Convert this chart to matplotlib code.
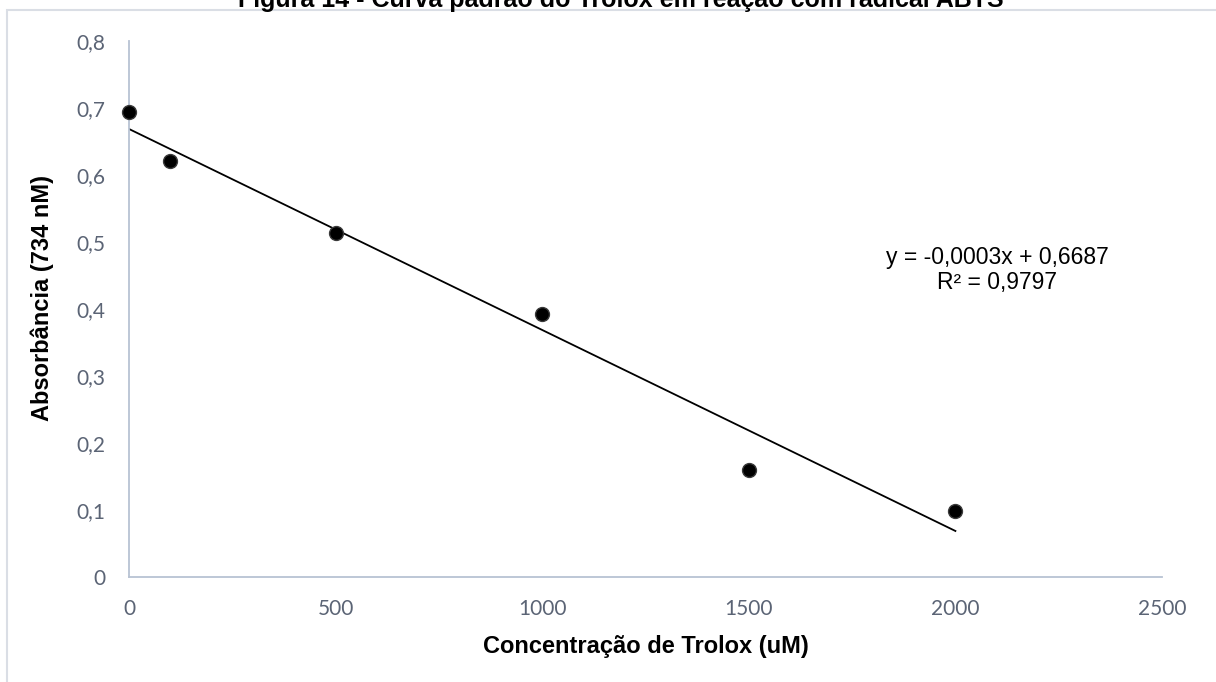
import matplotlib
matplotlib.use("Agg")
import matplotlib.pyplot as plt
from matplotlib.patches import Rectangle
import numpy as np

# Trolox standard curve (ABTS assay)
concentracao = [0, 100, 500, 1000, 1500, 2000]
absorbancia = [0.694, 0.621, 0.513, 0.393, 0.160, 0.099]
coef_a = -0.0003
coef_b = 0.6687
r2 = 0.9797

x_ticks = [0, 500, 1000, 1500, 2000, 2500]
y_ticks = [0, 0.1, 0.2, 0.3, 0.4, 0.5, 0.6, 0.7, 0.8]

titulo = "Figura 14 - Curva padrão do Trolox em reação com radical ABTS"
x_label = "Concentração de Trolox (uM)"
y_label = "Absorbância (734 nM)"

W, H = 1216, 682
fig = plt.figure(figsize=(W / 100, H / 100), dpi=100)
ax = fig.add_axes([129 / W, 1 - 577 / H, (1162 - 129) / W, (577 - 41) / H])

tick_color = "#5b6475"
spine_color = "#b8c3d3"

# trendline from the stated equation
x_fit = np.array([concentracao[0], concentracao[-1]])
ax.plot(x_fit, coef_a * x_fit + coef_b, color="black", lw=1.3, zorder=2)
ax.plot(concentracao, absorbancia, "o", color="black", ms=10,
        mec="#3a3a3a", mew=1.0, zorder=3, clip_on=False)

ax.set_xlim(0, 2500)
ax.set_ylim(0, 0.8)
ax.set_xticks(x_ticks)
ax.set_yticks(y_ticks)
ax.set_xticklabels([str(v) for v in x_ticks])
ax.set_yticklabels([f"{v:g}".replace(".", ",") for v in y_ticks])
ax.tick_params(length=0, labelcolor=tick_color, labelsize=15)
ax.tick_params(axis="x", pad=16)
ax.tick_params(axis="y", pad=17)
for lab in ax.get_xticklabels() + ax.get_yticklabels():
    lab.set_family("Lato")

for s in ["top", "right"]:
    ax.spines[s].set_visible(False)
for s in ["left", "bottom"]:
    ax.spines[s].set_color(spine_color)
    ax.spines[s].set_linewidth(1.3)

ax.set_xlabel(x_label, fontsize=17, fontweight="bold",
              family="Liberation Sans", labelpad=11)
fig.text(42 / W, 1 - 298 / H, y_label, rotation=90, fontsize=17,
         fontweight="bold", family="Liberation Sans", ha="center", va="center")

eq = (f"y = {coef_a:.4f}x + {coef_b:.4f}".replace(".", ",")
      + "\n" + f"R² = {r2:.4f}".replace(".", ","))
fig.text(997 / W, 1 - 270 / H, eq, fontsize=16.5, family="Liberation Sans",
         ha="center", va="center", linespacing=1.15)

# frame around the figure and the title cut by the top edge
fig.patches.append(Rectangle((7 / W, -0.1), 1.2, 1 - 10 / H + 0.1,
                             transform=fig.transFigure, fill=False,
                             edgecolor="#dadee5", lw=1.5))
fig.text(621 / W, 1 - 7 / H, titulo, fontsize=18, fontweight="bold",
         family="Liberation Sans", ha="center", va="baseline")

fig.savefig("out.png", dpi=100)
